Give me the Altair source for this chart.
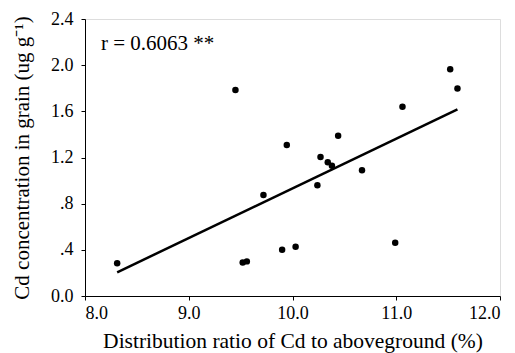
import altair as alt
import pandas as pd

ratio = [8.31, 9.45, 9.52, 9.56, 9.72, 9.90, 9.945, 10.03, 10.24, 10.27,
         10.34, 10.38, 10.44, 10.67, 10.99, 11.06, 11.52, 11.59]
cd = [0.283, 1.785, 0.29, 0.30, 0.875, 0.401, 1.308, 0.427, 0.959, 1.204,
      1.158, 1.129, 1.389, 1.089, 0.462, 1.640, 1.964, 1.797]

fit_x = [8.31, 11.59]
fit_y = [0.205, 1.618]

pts = pd.DataFrame({"ratio": ratio, "cd": cd})
fit = pd.DataFrame({"ratio": fit_x, "cd": fit_y})

FONT = "Liberation Serif"

xs = alt.Scale(domain=[8.0, 12.0], nice=False, zero=False)
ys = alt.Scale(domain=[0.0, 2.4], nice=False)

xax = alt.Axis(values=[8.0, 9.0, 10.0, 11.0, 12.0], format=".1f", grid=False,
               title="Distribution ratio of Cd to aboveground (%)",
               labelFont=FONT, titleFont=FONT, labelFontSize=18, titleFontSize=21.5,
               titleFontWeight="normal", labelColor="black", titleColor="black",
               domainColor="black", tickColor="black", tickSize=4, labelPadding=4,
               titleBaseline="alphabetic", titleY=51)
yax = alt.Axis(values=[0.0, 0.4, 0.8, 1.2, 1.6, 2.0, 2.4], grid=False,
               labelExpr="datum.value == 0 ? '0.0' : (datum.value < 1 ? replace(format(datum.value, '.1f'), '0.', '.') : format(datum.value, '.1f'))",
               title="Cd concentration in grain (ug g\u207b\u00b9)",
               labelFont=FONT, titleFont=FONT, labelFontSize=18, titleFontSize=21,
               titleFontWeight="normal", labelColor="black", titleColor="black",
               domainColor="black", tickColor="black", tickSize=4, labelPadding=8,
               titleBaseline="alphabetic", titleX=-57)

points = alt.Chart(pts).mark_circle(size=42, color="black", opacity=1).encode(
    x=alt.X("ratio:Q", scale=xs, axis=xax),
    y=alt.Y("cd:Q", scale=ys, axis=yax),
)

line = alt.Chart(fit).mark_line(color="black", strokeWidth=2.5).encode(
    x=alt.X("ratio:Q", scale=xs),
    y=alt.Y("cd:Q", scale=ys),
)

label = alt.Chart(pd.DataFrame({"t": ["r = 0.6063 **"]})).mark_text(
    font=FONT, fontSize=21, align="left", baseline="middle", color="black"
).encode(x=alt.value(16), y=alt.value(25), text="t:N")

chart = (points + line + label).properties(
    width=415, height=277,
    autosize=alt.AutoSizeParams(type="none"),
    padding={"left": 77, "top": 11, "right": 7, "bottom": 57},
).configure_view(stroke="black", strokeWidth=1).configure(background="white")

chart.save("out.html", embed_options={"renderer": "svg", "actions": False})
